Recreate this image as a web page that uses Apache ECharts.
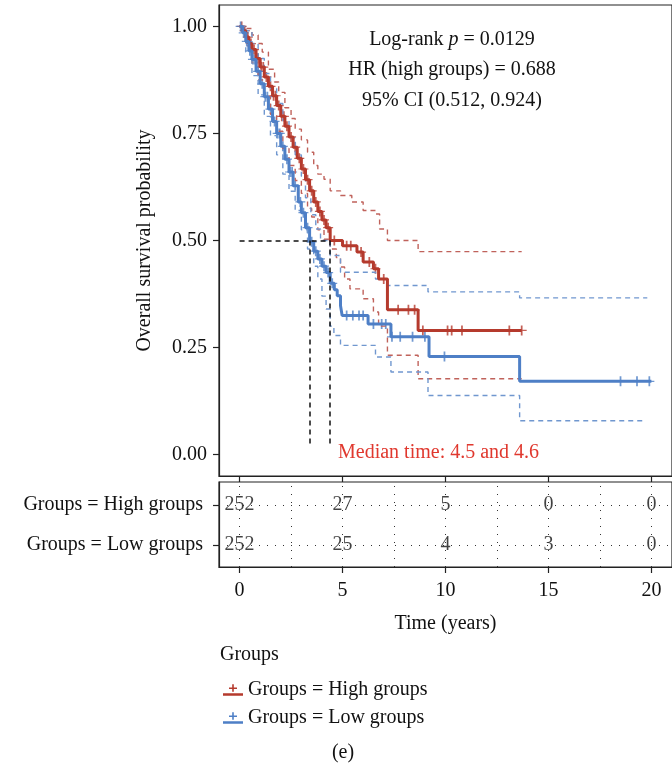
<!DOCTYPE html>
<html>
<head>
<meta charset="utf-8">
<script src="https://cdn.jsdelivr.net/npm/echarts@6/dist/echarts.min.js"></script>
<style>
  html, body { margin: 0; background: #fff; }
  #chart { width: 672px; height: 769px; }
</style>
</head>
<body>
<div id="chart"></div>
<script>
// KM steps: [time (years), survival]
const highSteps = [
  [0, 1.0], [0.15, 0.99], [0.3, 0.975], [0.45, 0.96], [0.6, 0.946], [0.8, 0.925],
  [1.0, 0.905], [1.2, 0.882], [1.4, 0.86], [1.6, 0.838], [1.8, 0.815], [2.0, 0.79],
  [2.2, 0.767], [2.4, 0.742], [2.6, 0.718], [2.8, 0.692], [3.0, 0.667], [3.2, 0.642],
  [3.4, 0.616], [3.6, 0.59], [3.8, 0.568], [4.0, 0.548], [4.2, 0.53], [4.4, 0.5],
  [5.0, 0.488], [5.7, 0.473], [6.0, 0.45], [6.5, 0.434], [6.75, 0.41], [7.18, 0.338],
  [8.67, 0.29], [13.7, 0.29]
];
const lowSteps = [
  [0, 1.0], [0.15, 0.985], [0.3, 0.965], [0.45, 0.943], [0.6, 0.923], [0.8, 0.895],
  [1.0, 0.866], [1.2, 0.836], [1.4, 0.807], [1.6, 0.778], [1.8, 0.75], [2.0, 0.72],
  [2.2, 0.69], [2.4, 0.66], [2.6, 0.628], [2.85, 0.59], [3.0, 0.565], [3.2, 0.53],
  [3.4, 0.497], [3.6, 0.475], [3.8, 0.457], [4.0, 0.44], [4.2, 0.425], [4.4, 0.4],
  [4.6, 0.385], [4.74, 0.371], [4.9, 0.348], [4.98, 0.325], [6.24, 0.305], [7.35, 0.275],
  [9.2, 0.229], [13.6, 0.171], [20.0, 0.171]
];

// 95% confidence bands
const highUpper = [
  [0, 1.0], [0.3, 0.995], [0.6, 0.98], [0.9, 0.96], [1.1, 0.94], [1.4, 0.9], [1.7, 0.87],
  [1.9, 0.846], [2.2, 0.81], [2.5, 0.785], [2.7, 0.76], [3.0, 0.735], [3.3, 0.706],
  [3.6, 0.675], [3.8, 0.655], [4.1, 0.643], [4.4, 0.616], [4.9, 0.605], [5.45, 0.59],
  [6.0, 0.57], [6.6, 0.562], [6.8, 0.527], [7.18, 0.5], [8.67, 0.474], [13.7, 0.474]
];
const highLower = [
  [0, 1.0], [0.3, 0.955], [0.6, 0.915], [0.9, 0.875], [1.2, 0.835], [1.5, 0.795],
  [1.8, 0.755], [2.1, 0.715], [2.4, 0.675], [2.7, 0.64], [3.0, 0.61], [3.3, 0.575],
  [3.5, 0.555], [3.8, 0.525], [4.1, 0.503], [4.4, 0.48], [4.7, 0.46], [4.9, 0.438],
  [5.1, 0.41], [5.36, 0.387], [6.0, 0.364], [6.5, 0.333], [6.75, 0.3], [7.18, 0.232],
  [8.67, 0.177], [13.7, 0.177]
];
const lowUpper = [
  [0, 1.0], [0.3, 0.99], [0.6, 0.96], [0.9, 0.925], [1.2, 0.89], [1.5, 0.855], [1.8, 0.82],
  [2.1, 0.78], [2.4, 0.74], [2.7, 0.7], [3.0, 0.65], [3.2, 0.6], [3.46, 0.56], [3.7, 0.527],
  [3.93, 0.5], [4.4, 0.465], [4.9, 0.426], [6.6, 0.41], [7.18, 0.395], [9.15, 0.38],
  [13.6, 0.366], [19.8, 0.366]
];
const lowLower = [
  [0, 1.0], [0.3, 0.94], [0.6, 0.885], [0.9, 0.84], [1.2, 0.79], [1.5, 0.745], [1.8, 0.7],
  [2.1, 0.655], [2.4, 0.615], [2.7, 0.57], [3.0, 0.525], [3.3, 0.48], [3.6, 0.44],
  [3.8, 0.41], [4.0, 0.37], [4.2, 0.34], [4.4, 0.3], [4.58, 0.278], [4.9, 0.255],
  [6.6, 0.228], [7.35, 0.193], [9.15, 0.138], [13.6, 0.079], [19.7, 0.079]
];

// censoring times
const highCensor = [
  0.1, 0.25, 0.4, 0.55, 0.7, 0.9, 1.05, 1.15, 1.3, 1.5, 1.65, 1.75, 1.9, 2.05, 2.15,
  2.3, 2.5, 2.7, 2.9, 3.1, 3.3, 3.5, 3.7, 3.9, 4.1, 4.3, 4.6, 5.2, 5.4, 5.9, 6.3, 6.6,
  7.0, 7.7, 8.2, 8.5, 8.9, 10.1, 10.3, 10.8, 13.1, 13.7
];
const lowCensor = [
  0.05, 0.2, 0.35, 0.5, 0.65, 0.75, 0.9, 1.1, 1.25, 1.35, 1.5, 1.7, 1.85, 1.95, 2.1,
  2.3, 2.45, 2.55, 2.7, 2.95, 3.1, 3.3, 3.5, 3.7, 3.9, 4.1, 4.3, 4.5, 5.2, 5.5, 5.8,
  6.0, 6.5, 6.9, 7.1, 7.4, 7.8, 8.4, 9.0, 9.95, 18.5, 19.3, 19.9
];

const medianTimes = [3.4, 4.4];
const medianSurv = 0.5;

// number at risk
const riskTimes = [0, 5, 10, 15, 20];
const riskHigh = [252, 27, 5, 0, 0];
const riskLow = [252, 25, 4, 3, 0];
const riskGridX = [0, 2.5, 5, 7.5, 10, 12.5, 15, 17.5, 20];

const xTicks = [0, 5, 10, 15, 20];
const yTicks = [0, 0.25, 0.5, 0.75, 1];
const groupNames = ['Groups = High groups', 'Groups = Low groups'];
const groupRows = [2, 1];

const RED = '#b53a2d';
const BLUE = '#4e7fc6';
const RED_CI = '#c0625b';
const BLUE_CI = '#7097cf';
const FONT = 'Liberation Serif';
const FS = 20;
const FONT_CSS = FS + 'px "Liberation Serif"';

function survAt(steps, t) {
  let s = steps[0][1];
  for (const p of steps) {
    if (p[0] <= t) s = p[1];
  }
  return s;
}

const plusIcon = 'path://M4.3,0h1.4v10h-1.4z M1,4.4h8v1.2h-8z';
const legendIcon = 'path://M0,10h20v2.4h-20z M9.2,1h1.6v7.5h-1.6z M6,4.2h8v1.4h-8z';

function ciLine(data, color) {
  return {
    type: 'line', step: 'end', data: data, symbol: 'none', silent: true,
    xAxisIndex: 0, yAxisIndex: 0,
    lineStyle: {color: color, width: 1.4, type: [5, 4]}
  };
}

function kmLine(name, data, color) {
  return {
    name: name, type: 'line', step: 'end', data: data, symbol: 'none',
    xAxisIndex: 0, yAxisIndex: 0, color: color,
    lineStyle: {color: color, width: 3}
  };
}

function censorSeries(times, steps, color) {
  return {
    type: 'scatter', xAxisIndex: 0, yAxisIndex: 0, silent: true,
    symbol: plusIcon, symbolSize: 10,
    itemStyle: {color: color},
    data: times.map((t) => [t, survAt(steps, t)])
  };
}

function riskSeries(counts, row) {
  return {
    type: 'scatter', xAxisIndex: 1, yAxisIndex: 1, silent: true,
    symbolSize: 1, itemStyle: {color: 'transparent'},
    label: {
      show: true, position: 'inside', fontFamily: FONT, fontSize: FS, color: '#111',
      formatter: (p) => String(p.value[2])
    },
    data: riskTimes.map((t, i) => [t, row, counts[i]])
  };
}

const axisLineStyle = {onZero: false, lineStyle: {color: '#222', width: 1.2}};
const tickStyle = {color: '#222', width: 1.2};
const dashedBlack = {color: '#111', width: 1.5, type: [5, 4]};

const option = {
  animation: false,
  backgroundColor: '#fff',
  textStyle: {fontFamily: FONT},
  grid: [
    {left: 219, top: 5, width: 464, height: 471, show: true,
      borderColor: '#222', borderWidth: 1.2, backgroundColor: '#fff'},
    {left: 219, top: 482, width: 464, height: 85, show: true,
      borderColor: '#222', borderWidth: 1.2}
  ],
  xAxis: [
    {type: 'value', gridIndex: 0, min: -1, max: 21,
      axisLine: axisLineStyle,
      axisTick: {customValues: xTicks, length: 6, lineStyle: tickStyle},
      axisLabel: {show: false},
      splitLine: {show: false}},
    {type: 'value', gridIndex: 1, min: -1, max: 21,
      name: 'Time (years)', nameLocation: 'middle', nameGap: 47,
      nameTextStyle: {fontFamily: FONT, fontSize: FS, color: '#111'},
      axisLine: axisLineStyle,
      axisTick: {customValues: xTicks, length: 6, lineStyle: tickStyle},
      axisLabel: {customValues: xTicks, fontFamily: FONT, fontSize: FS, color: '#111', margin: 14},
      splitLine: {show: false}}
  ],
  yAxis: [
    {type: 'value', gridIndex: 0, min: -0.05, max: 1.05,
      name: 'Overall survival probability', nameLocation: 'middle', nameGap: 64,
      nameTextStyle: {fontFamily: FONT, fontSize: FS, color: '#111'},
      axisLine: Object.assign({show: true}, axisLineStyle),
      axisTick: {show: true, customValues: yTicks, length: 6, lineStyle: tickStyle},
      axisLabel: {customValues: yTicks, fontFamily: FONT, fontSize: FS, color: '#111', margin: 12,
        formatter: (v) => v.toFixed(2)},
      splitLine: {show: false}},
    {type: 'value', gridIndex: 1, min: 0.45, max: 2.575,
      axisLine: Object.assign({show: true}, axisLineStyle),
      axisTick: {show: true, customValues: groupRows, length: 6, lineStyle: tickStyle},
      axisLabel: {customValues: groupRows, fontFamily: FONT, fontSize: FS, color: '#111', margin: 16,
        formatter: (v) => groupNames[groupRows.indexOf(v)]},
      splitLine: {show: false}}
  ],
  legend: {
    left: 218, top: 674, orient: 'vertical',
    itemWidth: 20, itemHeight: 12, itemGap: 6,
    textStyle: {fontFamily: FONT, fontSize: FS, color: '#111', lineHeight: 22},
    data: [
      {name: groupNames[0], icon: legendIcon},
      {name: groupNames[1], icon: legendIcon}
    ]
  },
  graphic: [
    {type: 'text', left: 220, top: 645,
      style: {text: 'Groups', font: FONT_CSS, fill: '#111'}},
    {type: 'text', x: 343, y: 753,
      style: {text: '(e)', font: FONT_CSS, fill: '#111', align: 'center', verticalAlign: 'middle'}},
    {type: 'text', x: 452, y: 40, z: 10,
      style: {
        text: '{n|Log-rank }{i|p}{n| = 0.0129}', align: 'center', verticalAlign: 'middle',
        rich: {
          n: {fontFamily: FONT, fontSize: FS, fill: '#111'},
          i: {fontFamily: FONT, fontSize: FS, fontStyle: 'italic', fill: '#111'}
        }
      }},
    {type: 'text', x: 452, y: 70, z: 10,
      style: {text: 'HR (high groups) = 0.688', font: FONT_CSS, fill: '#111',
        align: 'center', verticalAlign: 'middle'}},
    {type: 'text', x: 452, y: 101, z: 10,
      style: {text: '95% CI (0.512, 0.924)', font: FONT_CSS, fill: '#111',
        align: 'center', verticalAlign: 'middle'}},
    {type: 'text', x: 338, y: 453, z: 10,
      style: {text: 'Median time: 4.5 and 4.6', font: FONT_CSS, fill: '#e0382e',
        align: 'left', verticalAlign: 'middle'}}
  ],
  series: [
    ciLine(highUpper, RED_CI),
    ciLine(highLower, RED_CI),
    ciLine(lowUpper, BLUE_CI),
    ciLine(lowLower, BLUE_CI),
    kmLine(groupNames[0], highSteps, RED),
    kmLine(groupNames[1], lowSteps, BLUE),
    censorSeries(highCensor, highSteps, RED),
    censorSeries(lowCensor, lowSteps, BLUE),
    {
      type: 'line', xAxisIndex: 0, yAxisIndex: 0, data: [], silent: true,
      markLine: {
        symbol: 'none', silent: true, label: {show: false}, lineStyle: dashedBlack,
        data: [
          [{coord: [0, medianSurv]}, {coord: [Math.max(...medianTimes), medianSurv]}]
        ].concat(medianTimes.map((m) => [{coord: [m, medianSurv]}, {coord: [m, 0.02]}]))
      }
    },
    Object.assign(riskSeries(riskHigh, groupRows[0]), {
      markLine: {
        symbol: 'none', silent: true, label: {show: false},
        lineStyle: {color: '#333', width: 1, type: [1, 7]},
        data: riskGridX.map((x) => ({xAxis: x})).concat(groupRows.map((r) => ({yAxis: r})))
      }
    }),
    riskSeries(riskLow, groupRows[1])
  ]
};

const chart = echarts.init(document.getElementById('chart'));
chart.setOption(option);
</script>
</body>
</html>
